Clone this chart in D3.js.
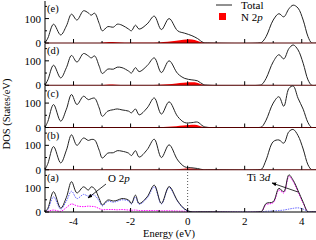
<!DOCTYPE html>
<html>
<head>
<meta charset="utf-8">
<script src="https://cdn.jsdelivr.net/npm/d3@7"></script>
<style>
  body { margin: 0; background: #fff; }
  svg text { font-family: "Liberation Serif", "Times New Roman", serif; fill: #000; }
</style>
</head>
<body>
<div id="chart"></div>
<script>
// Energy grids (eV)
var valE = [-5.0, -4.9, -4.7, -4.45, -4.25, -4.07, -3.88, -3.65, -3.48, -3.38, -3.26, -3.1, -2.99, -2.8, -2.6, -2.47, -2.3, -2.07, -1.97, -1.83, -1.7, -1.42, -1.17, -0.92, -0.65, -0.35, -0.1, 0.15, 0.35, 0.55, 0.75];
var conE = [2.5, 2.6, 2.75, 3.0, 3.2, 3.37, 3.55, 3.7, 3.87, 4.05, 4.22, 4.35, 4.5];
var nE = [-3.1, -2.95, -2.75, -2.5, -2.2, -1.8, -1.4, -1.0, -0.7, -0.4, -0.15, 0.05, 0.25, 0.4, 0.55, 0.65];

var panelNames = ["(e)", "(d)", "(c)", "(b)", "(a)"];

// Total DOS, valence part
var totalVal = {
  "(e)": [0, 20, 77, 33, 70, 118, 94, 132, 123, 114, 122, 80, 50, 67, 65, 77, 73, 57, 50, 73, 57, 78, 110, 55, 100, 50, 40, 30, 18, 2, 0],
  "(d)": [0, 22, 82, 30, 72, 122, 95, 130, 120, 112, 120, 78, 48, 66, 66, 74, 72, 58, 50, 72, 56, 80, 112, 52, 100, 48, 28, 22, 18, 3, 0],
  "(c)": [0, 25, 94, 26, 75, 135, 94, 128, 114, 118, 120, 80, 46, 67, 73, 76, 72, 67, 60, 76, 52, 80, 121, 55, 105, 45, 20, 20, 22, 5, 0],
  "(b)": [0, 25, 95, 28, 80, 143, 100, 130, 120, 124, 122, 80, 48, 68, 70, 78, 76, 68, 58, 78, 52, 82, 125, 50, 102, 40, 12, 8, 5, 0, 0],
  "(a)": [0, 15, 83, 16, 60, 124, 78, 103, 90, 103, 95, 55, 29, 49, 45, 48, 55, 49, 35, 69, 35, 62, 110, 35, 104, 45, 12, 0, 0, 0, 0]
};
// Total DOS, conduction part
var totalCon = {
  "(e)": [0, 3, 26, 94, 120, 107, 140, 155, 143, 94, 26, 0, 0],
  "(d)": [0, 3, 28, 96, 125, 108, 150, 165, 145, 90, 22, 0, 0],
  "(c)": [0, 3, 30, 100, 126, 87, 160, 170, 120, 75, 20, 0, 0],
  "(b)": [0, 3, 40, 115, 122, 109, 156, 165, 140, 85, 20, 0, 0],
  "(a)": [0, 3, 35, 42, 97, 83, 152, 130, 88, 40, 0, 0, 0]
};
// N 2p partial DOS
var n2p = {
  "(e)": [0, 2, 4, 3, 1.5, 1, 1.5, 2.5, 5, 9, 13, 15, 12, 6, 1, 0],
  "(d)": [0, 1.5, 3, 2, 1, 1, 1, 2, 4, 7, 10, 12, 12, 7, 2, 0],
  "(c)": [0, 1, 2, 1.5, 1, 1, 1, 1.5, 3, 5, 8, 10, 11, 7, 2, 0],
  "(b)": [0, 0.5, 1, 1, 0.5, 0.5, 0.5, 1, 1.5, 2.5, 4, 5, 4, 2, 0.5, 0]
};
// panel (a) partials
var o2pVal = [0, 10, 62, 12, 45, 85, 55, 72, 65, 70, 68, 45, 25, 44, 40, 44, 50, 45, 32, 62, 32, 57, 103, 33, 100, 43, 10, 0, 0, 0, 0];
var o2pCon = [0, 0, 3, 4, 6, 8, 12, 15, 17, 12, 2, 0, 0];
var ti3dVal = [0, 3, 8, 3, 18, 33, 25, 22, 24, 23, 22, 14, 10, 10, 10, 9, 10, 8, 7, 8, 6, 6, 6, 5, 5, 4, 3, 0, 0, 0, 0];
var ti3dCon = [0, 2, 30, 38, 90, 78, 145, 125, 82, 36, 0, 0, 0];

var xTicks = [-4, -2, 0, 2, 4];
var yTicks = [0, 100];

var svgWidth = 316, svgHeight = 240;
var svg = d3.select("#chart").append("svg")
  .attr("width", svgWidth)
  .attr("height", svgHeight);
var defs = svg.append("defs");

var x = d3.scaleLinear().domain([-5, 4.5]).range([45, 316]);
var panelH = 42.25;
var topBase = 43;

function joinSeries(v, c) {
  var pts = valE.map(function (e, i) { return [e, v[i]]; });
  return pts.concat(conE.map(function (e, i) { return [e, c[i]]; }));
}

panelNames.forEach(function (name, idx) {
  var base = topBase + panelH * idx;
  var y = d3.scaleLinear().domain([0, 172]).range([base, base - 42]);

  // clip curves to the panel so smoothing never dips below zero
  var clipId = "clip" + idx;
  defs.append("clipPath").attr("id", clipId)
    .append("rect")
    .attr("x", x(-5)).attr("y", base - 44)
    .attr("width", 316 - x(-5)).attr("height", 44);

  var g = svg.append("g");
  var plot = g.append("g").attr("clip-path", "url(#" + clipId + ")");

  var line = d3.line()
    .x(function (d) { return x(d[0]); })
    .y(function (d) { return y(d[1]); })
    .curve(d3.curveCatmullRom.alpha(0.5));

  // N 2p filled area
  if (n2p[name]) {
    var area = d3.area()
      .x(function (d) { return x(d[0]); })
      .y0(y(0))
      .y1(function (d) { return y(d[1]); })
      .curve(d3.curveMonotoneX);
    plot.append("path")
      .datum(nE.map(function (e, i) { return [e, n2p[name][i]]; }))
      .attr("d", area)
      .attr("fill", "#ff0000");
  }

  if (name === "(a)") {
    plot.append("line")
      .attr("x1", x(0)).attr("x2", x(0))
      .attr("y1", y(0)).attr("y2", y(172))
      .attr("stroke", "#555").attr("stroke-width", 1)
      .attr("stroke-dasharray", "1,2");
    plot.append("path")
      .datum(joinSeries(ti3dVal, ti3dCon))
      .attr("d", line)
      .attr("fill", "none")
      .attr("stroke", "#ff00ff").attr("stroke-width", 1)
      .attr("stroke-dasharray", "1.5,1");
    plot.append("path")
      .datum(joinSeries(o2pVal, o2pCon))
      .attr("d", line)
      .attr("fill", "none")
      .attr("stroke", "#6666ff").attr("stroke-width", 1)
      .attr("stroke-dasharray", "1.5,1");
  }

  // Total DOS
  plot.append("path")
    .datum(joinSeries(totalVal[name], totalCon[name]))
    .attr("d", line)
    .attr("fill", "none")
    .attr("stroke", "#222")
    .attr("stroke-width", 1);

  // bottom axis, ticks pointing inward
  var ax = g.append("g").attr("transform", "translate(0," + base + ")");
  ax.append("line")
    .attr("x1", x(-5)).attr("x2", 316)
    .attr("y1", 0).attr("y2", 0)
    .attr("stroke", name === "(a)" ? "#000" : "#500")
    .attr("stroke-width", 1.2);
  ax.selectAll("line.tk")
    .data(d3.range(-5, 5, 1))
    .enter().append("line")
    .attr("class", "tk")
    .attr("x1", function (d) { return x(d); })
    .attr("x2", function (d) { return x(d); })
    .attr("y1", 0)
    .attr("y2", function (d) { return d % 2 === 0 ? -4 : -2; })
    .attr("stroke", "#000");

  // left axis
  g.append("line")
    .attr("x1", x(-5)).attr("x2", x(-5))
    .attr("y1", base).attr("y2", base - 42)
    .attr("stroke", "#000");
  g.selectAll("line.ytk")
    .data([0, 50, 100, 150])
    .enter().append("line")
    .attr("class", "ytk")
    .attr("x1", x(-5))
    .attr("x2", function (d) { return x(-5) + (d % 100 === 0 ? 4 : 2); })
    .attr("y1", function (d) { return y(d); })
    .attr("y2", function (d) { return y(d); })
    .attr("stroke", "#000");
  g.selectAll("text.ylab")
    .data(yTicks)
    .enter().append("text")
    .attr("class", "ylab")
    .attr("x", 41)
    .attr("y", function (d) { return y(d) + 4; })
    .attr("text-anchor", "end")
    .attr("font-size", "11px")
    .text(function (d) { return d; });

  // panel label
  g.append("text")
    .attr("x", 47)
    .attr("y", base - 42 + 11)
    .attr("font-size", "10.5px")
    .text(name);

  // bottom panel: x tick labels
  if (name === "(a)") {
    g.selectAll("text.xlab")
      .data(xTicks)
      .enter().append("text")
      .attr("class", "xlab")
      .attr("x", function (d) { return x(d); })
      .attr("y", base + 13)
      .attr("text-anchor", "middle")
      .attr("font-size", "11px")
      .text(function (d) { return d < 0 ? "-" + Math.abs(d) : d; });
  }
});

// Legend
svg.append("line")
  .attr("x1", 216).attr("x2", 232)
  .attr("y1", 5).attr("y2", 5)
  .attr("stroke", "#222");
svg.append("text")
  .attr("x", 241).attr("y", 9)
  .attr("font-size", "11px")
  .text("Total");
svg.append("rect")
  .attr("x", 219).attr("y", 13)
  .attr("width", 7).attr("height", 7)
  .attr("fill", "#ff0000");
var nLab = svg.append("text")
  .attr("x", 241).attr("y", 21)
  .attr("font-size", "11px");
nLab.append("tspan").text("N 2");
nLab.append("tspan").attr("font-style", "italic").text("p");

// Annotations in panel (a)
defs.append("marker")
  .attr("id", "arr")
  .attr("viewBox", "0 0 10 10")
  .attr("refX", 9).attr("refY", 5)
  .attr("markerWidth", 6).attr("markerHeight", 6)
  .attr("orient", "auto")
  .append("path")
  .attr("d", "M0,1 L10,5 L0,9 z")
  .attr("fill", "#000");

var oLab = svg.append("text")
  .attr("x", 108).attr("y", 182)
  .attr("font-size", "11px");
oLab.append("tspan").text("O 2");
oLab.append("tspan").attr("font-style", "italic").text("p");
svg.append("line")
  .attr("x1", 106).attr("y1", 184)
  .attr("x2", 88).attr("y2", 198)
  .attr("stroke", "#000").attr("stroke-width", 0.8)
  .attr("marker-end", "url(#arr)");

var tLab = svg.append("text")
  .attr("x", 247).attr("y", 181)
  .attr("font-size", "11px");
tLab.append("tspan").text("Ti 3");
tLab.append("tspan").attr("font-style", "italic").text("d");
svg.append("line")
  .attr("x1", 298).attr("y1", 192)
  .attr("x2", 272).attr("y2", 183)
  .attr("stroke", "#000").attr("stroke-width", 0.8)
  .attr("marker-end", "url(#arr)");

// Axis titles
svg.append("text")
  .attr("transform", "translate(10,114) rotate(-90)")
  .attr("text-anchor", "middle")
  .attr("font-size", "10.5px")
  .text("DOS (States/eV)");
svg.append("text")
  .attr("x", 169).attr("y", 237)
  .attr("text-anchor", "middle")
  .attr("font-size", "10.5px")
  .text("Energy (eV)");
</script>
</body>
</html>
